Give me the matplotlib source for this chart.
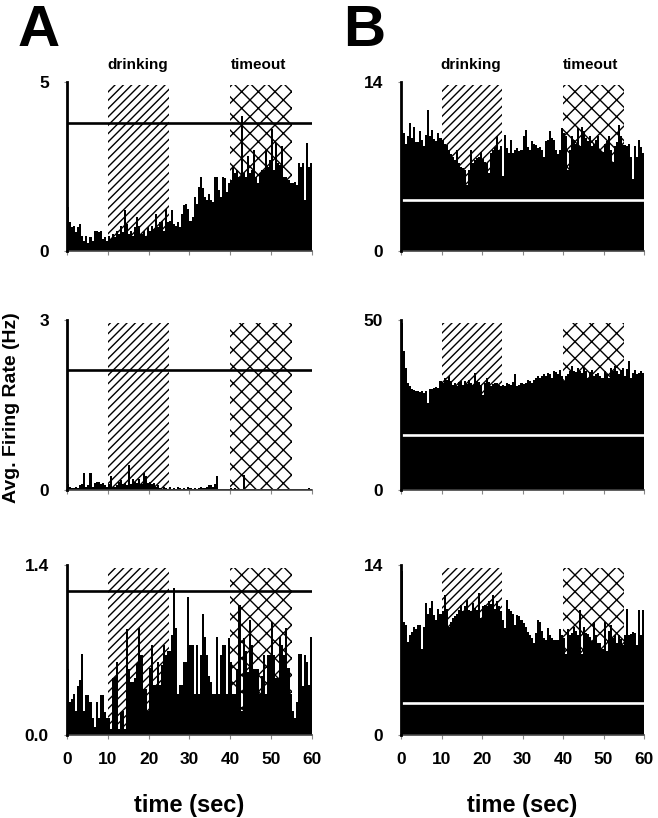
import matplotlib
matplotlib.use("Agg")
import matplotlib.pyplot as plt
import numpy as np

plt.rcParams['font.family'] = ['Liberation Sans', 'DejaVu Sans']
plt.rcParams['font.weight'] = 'bold'
plt.rcParams['hatch.linewidth'] = 1.0

# ---------------- data ----------------
bin_width = 0.5
n_bins = 120
time_ticks = [0, 10, 20, 30, 40, 50, 60]
drinking_window = (10, 25)
timeout_window = (40, 55)

# Column A
a_top = [1.3, 0.85, 0.7, 0.75, 0.55, 0.7, 0.8, 0.45, 0.3, 0.45,
         0.25, 0.4, 0.3, 0.6, 0.6, 0.55, 0.6, 0.35, 0.4, 0.3,
         0.45, 0.35, 0.5, 0.4, 0.6, 0.5, 0.75, 0.55, 1.2, 0.8,
         0.5, 0.6, 0.45, 0.7, 1.0, 0.75, 0.5, 0.6, 0.45, 0.7,
         0.6, 0.75, 0.65, 1.1, 0.7, 0.85, 0.9, 0.6, 1.25, 0.85,
         0.9, 1.2, 0.8, 0.75, 0.85, 0.7, 1.1, 1.35, 1.4, 1.25,
         0.9, 1.0, 1.6, 1.4, 1.9, 2.2, 1.85, 1.6, 1.5, 1.7,
         1.5, 1.45, 2.2, 2.2, 1.8, 1.6, 2.2, 2.15, 1.75, 2.0,
         2.1, 2.5, 2.3, 2.4, 2.2, 4.0, 2.3, 2.2, 2.8, 2.3,
         2.4, 3.0, 2.2, 2.0, 2.3, 2.4, 2.4, 3.0, 2.5, 2.7,
         3.6, 2.4, 3.2, 2.6, 2.55, 3.1, 2.2, 2.2, 2.1, 2.0,
         2.0, 2.05, 1.95, 2.6, 2.5, 2.6, 1.5, 3.2, 2.5, 2.6]

a_mid = [0.1, 0.05, 0.03, 0.03, 0.05, 0.03, 0.08, 0.1, 0.3, 0.05,
         0.08, 0.3, 0.06, 0.12, 0.15, 0.15, 0.1, 0.12, 0.08, 0.05,
         0.1, 0.24, 0.06, 0.05, 0.08, 0.15, 0.18, 0.1, 0.12, 0.08,
         0.44, 0.1, 0.2, 0.15, 0.12, 0.2, 0.1, 0.3, 0.25, 0.12,
         0.15, 0.1, 0.12, 0.06, 0.08, 0.03, 0.02, 0.05, 0.03, 0.02,
         0.05, 0.02, 0.04, 0.02, 0.05, 0.03, 0.02, 0.04, 0.02, 0.05,
         0.03, 0.02, 0.04, 0.02, 0.03, 0.05, 0.03, 0.04, 0.05, 0.08,
         0.08, 0.06, 0.1, 0.25, 0.02, 0.01, 0.02, 0.01, 0.02, 0.01,
         0.03, 0.02, 0.03, 0.02, 0.01, 0.02, 0.26, 0.02, 0.01, 0.02,
         0.01, 0.02, 0.01, 0.01, 0.02, 0.01, 0.01, 0.02, 0.01, 0.01,
         0.02, 0.01, 0.01, 0.02, 0.01, 0.01, 0.02, 0.01, 0.01, 0.02,
         0.01, 0.01, 0.02, 0.01, 0.01, 0.02, 0.01, 0.01, 0.03, 0.01]

a_bot = [0.54, 0.27, 0.3, 0.34, 0.2, 0.4, 0.45, 0.67, 0.2, 0.33,
         0.33, 0.27, 0.14, 0.07, 0.27, 0.14, 0.33, 0.33, 0.19, 0.14,
         0.14, 0.05, 0.47, 0.48, 0.6, 0.05, 0.19, 0.2, 0.05, 0.87,
         0.54, 0.44, 0.44, 0.47, 0.59, 0.88, 0.66, 0.38, 0.38, 0.2,
         0.55, 0.74, 0.41, 0.41, 0.6, 0.41, 0.58, 0.74, 0.66, 0.69,
         0.69, 0.82, 1.21, 0.88, 0.34, 0.41, 0.41, 0.6, 0.6, 1.14,
         0.74, 0.74, 0.34, 0.74, 0.34, 0.66, 1.0, 0.81, 0.66, 0.49,
         0.44, 0.34, 0.34, 0.81, 0.34, 0.66, 0.74, 0.74, 0.34, 0.8,
         0.6, 0.34, 0.34, 0.54, 1.07, 0.2, 0.8, 0.69, 0.52, 0.95,
         0.74, 0.54, 0.54, 0.54, 0.34, 0.49, 0.66, 0.34, 0.66, 0.66,
         0.93, 0.66, 0.47, 0.47, 0.81, 0.74, 0.66, 0.88, 0.55, 0.34,
         0.2, 0.14, 0.27, 0.67, 0.67, 0.4, 0.66, 0.6, 0.41, 0.81]

# Column B
b_top = [10.0, 9.8, 8.9, 9.5, 10.6, 9.4, 10.3, 9.0, 9.0, 9.9,
         9.2, 8.7, 9.6, 11.7, 9.5, 10.0, 9.3, 9.1, 9.8, 9.4,
         9.2, 8.9, 8.8, 8.4, 8.0, 7.8, 7.5, 8.4, 7.3, 7.0,
         6.9, 6.7, 5.5, 6.7, 8.4, 7.3, 7.5, 7.7, 7.8, 8.2,
         7.6, 7.4, 7.3, 6.5, 8.1, 8.4, 8.6, 9.5, 8.4, 8.7,
         6.2, 9.6, 8.5, 8.1, 9.2, 8.1, 8.4, 8.5, 8.3, 8.4,
         9.5, 10.0, 8.6, 8.4, 9.1, 8.9, 8.8, 8.5, 8.6, 8.4,
         7.8, 9.1, 9.2, 9.9, 9.4, 9.2, 8.4, 8.0, 8.4, 10.2,
         9.8, 9.5, 6.7, 8.4, 9.5, 9.2, 8.9, 10.2, 8.7, 10.3,
         9.9, 9.4, 9.1, 9.5, 8.7, 8.9, 9.2, 9.5, 8.4, 8.2,
         8.9, 9.1, 9.5, 8.4, 7.4, 8.7, 9.0, 10.4, 9.5, 8.8,
         8.8, 8.7, 8.9, 7.8, 6.0, 8.7, 7.8, 9.2, 8.6, 8.1]

b_mid = [49, 41, 36, 31.5, 30.5, 29.6, 29.4, 29, 29.2, 28.8,
         29, 28.6, 29, 25.7, 29.6, 29.8, 30, 30.2, 30, 32,
         31.5, 33, 32.5, 33.5, 32, 31, 31.5, 30.6, 31.8, 32,
         31, 32, 31.2, 32.5, 31.5, 31, 34.5, 32, 31.8, 31,
         28, 31.5, 33, 31.8, 30.6, 31.2, 31.5, 31.5, 30.8, 30.6,
         31, 30.6, 31.5, 31.2, 31, 31.8, 34, 30.6, 31, 31.5,
         31.2, 31.5, 32.5, 32, 31.5, 32.4, 33, 33.5, 32.8, 33.5,
         34, 33.6, 34.5, 34, 33, 35, 34.6, 34, 35.2, 33.5,
         32, 33.4, 34, 35, 36.4, 35, 34.8, 36, 35, 34.5,
         36, 35, 33, 34.6, 35.4, 33.5, 34.2, 34.5, 33.6, 33,
         35, 34.2, 33, 36, 35, 36.4, 35, 34, 35.2, 36,
         33.5, 35.6, 37.9, 33, 34.5, 35.4, 34, 34.5, 35, 34.5]

b_bot = [13.5, 9.3, 9.1, 7.7, 8.2, 8.5, 8.9, 8.7, 9.1, 9.1,
         7.1, 8.9, 10.9, 10, 10.5, 11, 9.9, 9.5, 10.4, 10,
         10.2, 11.5, 10.4, 8.9, 9.3, 9.6, 9.8, 10, 10.3, 10.7,
         10.2, 10.6, 11.1, 10.3, 10.2, 10.9, 10.5, 10.3, 11.7, 9.6,
         10.6, 10.7, 10.6, 11, 10.8, 11.5, 10.4, 11, 10.6, 10.2,
         9.5, 8.8, 11.1, 10.4, 10.2, 10, 9.1, 9.9, 9.8, 9.5,
         9.2, 8.9, 8.5, 8.2, 8.0, 7.6, 8.4, 9.5, 9.3, 8.6,
         8.0, 7.8, 8.8, 8.2, 8.0, 7.8, 7.8, 7.8, 8.7, 8.2,
         8.0, 6.7, 8.7, 8.2, 8.4, 8.9, 8.6, 8.2, 10.3, 6.7,
         8.9, 8.4, 8.3, 8.1, 7.7, 9.3, 8.2, 7.6, 7.6, 7.1,
         9.3, 6.9, 8.6, 9.1, 8.0, 8.2, 7.6, 8.2, 7.9, 7.4,
         8.2, 10.4, 8.2, 8.3, 8.5, 8.4, 7.4, 10.3, 8.2, 10.3]

y_max = {'a_top': 5, 'a_mid': 3, 'a_bot': 1.4, 'b_top': 14, 'b_mid': 50, 'b_bot': 14}
y_tick_labels = {'a_top': ['0', '5'], 'a_mid': ['0', '3'], 'a_bot': ['0.0', '1.4'],
                 'b_top': ['0', '14'], 'b_mid': ['0', '50'], 'b_bot': ['0', '14']}
thresholds = {'a_top': 3.78, 'a_mid': 2.12, 'a_bot': 1.19,
              'b_top': 4.2, 'b_mid': 16.3, 'b_bot': 2.6}

# ---------------- layout ----------------
W, H = 658, 818
fig = plt.figure(figsize=(W / 100, H / 100), dpi=100)


def rect(x0, x1, ytop, ybot):
    return [x0 / W, 1 - ybot / H, (x1 - x0) / W, (ybot - ytop) / H]


cols = {'a': (67, 312), 'b': (401, 644)}
rows = {'top': (82, 251), 'mid': (320, 490), 'bot': (565, 735)}
series = {'a_top': a_top, 'a_mid': a_mid, 'a_bot': a_bot,
          'b_top': b_top, 'b_mid': b_mid, 'b_bot': b_bot}

bin_starts = np.arange(n_bins) * bin_width

for col in ['a', 'b']:
    for row in ['top', 'mid', 'bot']:
        key = f'{col}_{row}'
        ax = fig.add_axes(rect(*cols[col], *rows[row]))
        ymax = y_max[key]
        vals = series[key]
        # hatched windows
        ax.fill_between(list(drinking_window), 0, ymax * 0.985, facecolor='none',
                        edgecolor='black', hatch='////', linewidth=0, zorder=1)
        ax.fill_between(list(timeout_window), 0, ymax * 0.985, facecolor='none',
                        edgecolor='black', hatch='xx', linewidth=0, zorder=1)
        ax.bar(bin_starts, vals, width=bin_width, align='edge', color='black',
               linewidth=0, zorder=2)
        lc = 'black' if col == 'a' else 'white'
        ax.axhline(thresholds[key], color=lc, lw=1.9, zorder=3)
        ax.set_xlim(0, 60)
        ax.set_ylim(0, ymax)
        for s in ['top', 'right']:
            ax.spines[s].set_visible(False)
        ax.spines['left'].set_linewidth(2.0)
        ax.spines['left'].set_zorder(4)
        ax.spines['bottom'].set_linewidth(1.2)
        ax.spines['bottom'].set_color('#444444')
        ax.set_xticks(time_ticks)
        if row == 'bot':
            ax.set_xticklabels([str(t) for t in time_ticks])
        else:
            ax.set_xticklabels([])
        ax.set_yticks([0, ymax])
        ax.set_yticklabels(y_tick_labels[key])
        ax.tick_params(axis='x', length=3, width=0.8, color='#888888',
                       labelsize=12.5, pad=9)
        ax.tick_params(axis='y', length=2, width=0.8, color='#888888',
                       labelsize=12.5, pad=11)
        for lbl in ax.get_xticklabels() + ax.get_yticklabels():
            lbl.set_fontweight('bold')
        if row == 'top':
            ax.annotate('drinking', xy=(17.3, 1), xycoords=('data', 'axes fraction'),
                        xytext=(0, 12), textcoords='offset points', ha='center',
                        va='center', fontsize=11, fontweight='bold')
            ax.annotate('timeout', xy=(46.8, 1), xycoords=('data', 'axes fraction'),
                        xytext=(0, 12), textcoords='offset points', ha='center',
                        va='center', fontsize=11, fontweight='bold')
        if row == 'bot':
            ax.set_xlabel('time (sec)', fontsize=17, fontweight='bold', labelpad=20)

fig.text(18 / W, 1 - 46 / H, 'A', fontsize=42, fontweight='bold', ha='left', va='baseline')
fig.text(343 / W, 1 - 46 / H, 'B', fontsize=42, fontweight='bold', ha='left', va='baseline')
fig.text(12 / W, 1 - 408 / H, 'Avg. Firing Rate (Hz)', rotation=90, fontsize=14,
         fontweight='bold', ha='center', va='center')

fig.savefig('out.png', dpi=100)
